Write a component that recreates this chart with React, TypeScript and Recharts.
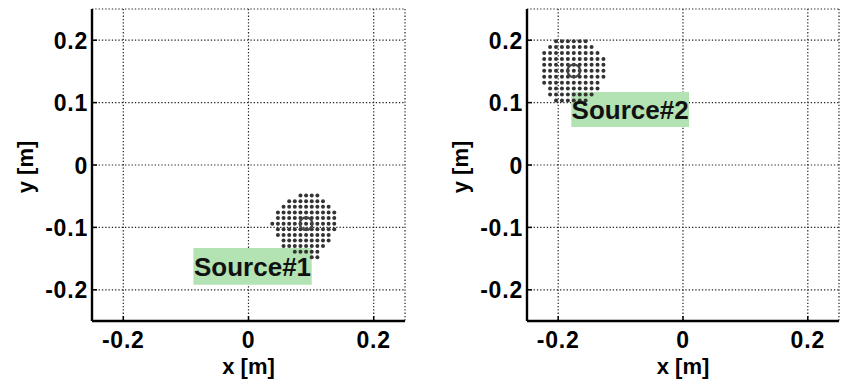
import { CartesianGrid, Label, ReferenceArea, Scatter, ScatterChart, XAxis, YAxis } from 'recharts'

// tick values
const xTicks = [-0.2, 0, 0.2]
const yTicks = [-0.2, -0.1, 0, 0.1, 0.2]

// microphone grid around source 1 (top -> bottom)
const src1Mask = [
  '.....####....',
  '...#######...',
  '..#########..',
  '.###########.',
  '.###########.',
  '############.',
  '.###########.',
  '.##########..',
  '..#########..',
  '..########...',
  '....#####....',
  '.......##....',
]
const src1Center = { x: 0.092, y: -0.094 }
const src1Step = 0.009

// grid around source 2
const src2Mask = [
  '..######...',
  '.########..',
  '##########.',
  '###########',
  '###########',
  '###########',
  '###########',
  '##########.',
  '.#########.',
  '.########..',
  '..######...',
]
const src2Center = { x: -0.175, y: 0.151 }
const src2Step = 0.0095

const maskToPoints = (mask, cRow, cCol, center, step) => {
  const pts = []
  mask.forEach((row, r) => {
    row.split('').forEach((ch, c) => {
      if (ch === '#') pts.push({ x: center.x + (c - cCol) * step, y: center.y - (r - cRow) * step })
    })
  })
  return pts
}

const font = '"Liberation Sans", Arial, sans-serif'
const fmt = (v) => (v === 0 ? '0' : String(v))

const XTick = ({ x, y, payload }) => (
  <g>
    <line x1={x} x2={x} y1={y} y2={y - 5} stroke="#000" strokeWidth={1.5} />
    <text x={x} y={y + 27} textAnchor="middle" fontSize={23} fontWeight={700} fontFamily={font} letterSpacing={0.8} fill="#000">
      {fmt(payload.value)}
    </text>
  </g>
)

const YTick = ({ x, y, payload }) => (
  <g>
    <line x1={x} x2={x + 5} y1={y} y2={y} stroke="#000" strokeWidth={1.5} />
    <text x={x - 4} y={y + 8.5} textAnchor="end" fontSize={23} fontWeight={700} fontFamily={font} letterSpacing={0.8} fill="#000">
      {fmt(payload.value)}
    </text>
  </g>
)

const Dot = (p) => <circle cx={p.cx} cy={p.cy} r={2} fill="#333" />
const Ring = (p) => <circle cx={p.cx} cy={p.cy} r={6.3} fill="none" stroke="#444" strokeWidth={2.2} />

const Panel = ({ width, margin, pts, center, box, label }) => (
  <ScatterChart width={width} height={385} margin={margin}>
    <CartesianGrid stroke="#222" strokeDasharray="1.3 2" strokeWidth={1.2} />
    <XAxis
      type="number"
      dataKey="x"
      domain={[-0.25, 0.25]}
      ticks={xTicks}
      allowDataOverflow
      height={64}
      axisLine={{ stroke: '#000', strokeWidth: 2.4 }}
      tickLine={false}
      tickSize={0}
      tickMargin={0}
      tick={XTick}
    >
      <Label
        content={({ viewBox }) => (
          <text
            x={viewBox.x + viewBox.width / 2}
            y={viewBox.y + 53}
            textAnchor="middle"
            fontSize={22}
            fontWeight={700}
            fontFamily={font}
            fill="#000"
          >
            x [m]
          </text>
        )}
      />
    </XAxis>
    <YAxis
      type="number"
      dataKey="y"
      domain={[-0.25, 0.25]}
      ticks={yTicks}
      allowDataOverflow
      width={92}
      axisLine={{ stroke: '#000', strokeWidth: 2.4 }}
      tickLine={false}
      tickSize={0}
      tickMargin={0}
      tick={YTick}
    >
      <Label
        content={({ viewBox }) => {
          const lx = viewBox.x + viewBox.width - 59
          const ly = viewBox.y + viewBox.height / 2 + 2
          return (
            <text
              x={lx}
              y={ly}
              transform={`rotate(-90 ${lx} ${ly})`}
              textAnchor="middle"
              fontSize={22}
              fontWeight={700}
              fontFamily={font}
              fill="#000"
            >
              y [m]
            </text>
          )
        }}
      />
    </YAxis>
    <ReferenceArea
      x1={box[0]}
      x2={box[1]}
      y1={box[2]}
      y2={box[3]}
      fill="#b3e2b3"
      fillOpacity={1}
      stroke="none"
      label={{ value: label, position: 'center', fill: '#111', fontSize: 26, fontWeight: 700, fontFamily: font }}
    />
    <Scatter data={pts} shape={Dot} isAnimationActive={false} />
    <Scatter data={[center]} shape={Ring} isAnimationActive={false} />
  </ScatterChart>
)

export default function App() {
  return (
    <div style={{ position: 'absolute', left: 0, top: 0, width: 850, height: 385, display: 'flex', background: '#fff' }}>
      <Panel
        width={420}
        margin={{ top: 9, right: 15, bottom: 0, left: 0 }}
        pts={maskToPoints(src1Mask, 5, 6, src1Center, src1Step)}
        center={src1Center}
        box={[-0.088, 0.101, -0.133, -0.192]}
        label="Source#1"
      />
      <Panel
        width={430}
        margin={{ top: 9, right: 11, bottom: 0, left: 15 }}
        pts={maskToPoints(src2Mask, 5, 5, src2Center, src2Step)}
        center={src2Center}
        box={[-0.179, 0.0096, 0.117, 0.061]}
        label="Source#2"
      />
    </div>
  )
}
